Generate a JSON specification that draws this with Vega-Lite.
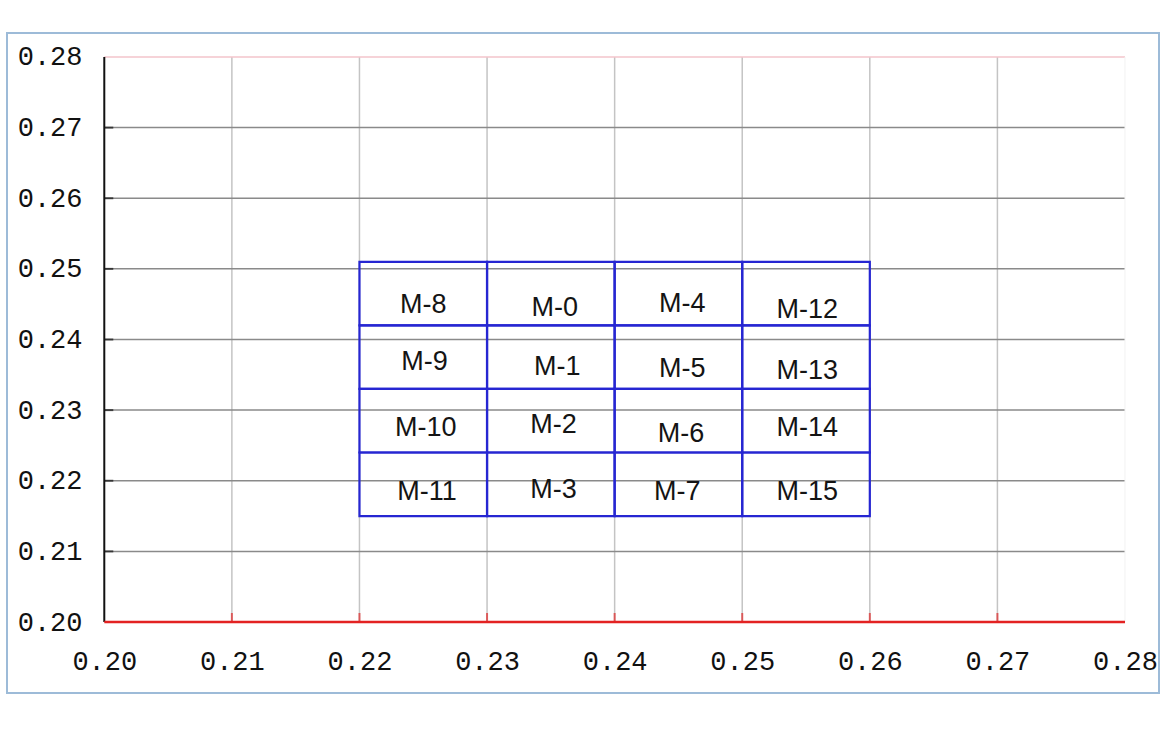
{
  "$schema": "https://vega.github.io/schema/vega-lite/v6.json",
  "autosize": "none",
  "width": 1152,
  "height": 660,
  "padding": {"left": 7, "top": 33, "right": 1, "bottom": 38},
  "background": "white",
  "config": {"view": {"stroke": "#9dbbd8", "strokeWidth": 2}},
  "datasets": {
    "vgrid": [{"v": 0.21}, {"v": 0.22}, {"v": 0.23}, {"v": 0.24}, {"v": 0.25}, {"v": 0.26}, {"v": 0.27}],
    "hgrid": [{"v": 0.21}, {"v": 0.22}, {"v": 0.23}, {"v": 0.24}, {"v": 0.25}, {"v": 0.26}, {"v": 0.27}],
    "cells": [
      {"x1": 0.22, "x2": 0.23, "y1": 0.242, "y2": 0.251},
      {"x1": 0.22, "x2": 0.23, "y1": 0.233, "y2": 0.242},
      {"x1": 0.22, "x2": 0.23, "y1": 0.224, "y2": 0.233},
      {"x1": 0.22, "x2": 0.23, "y1": 0.215, "y2": 0.224},
      {"x1": 0.23, "x2": 0.24, "y1": 0.242, "y2": 0.251},
      {"x1": 0.23, "x2": 0.24, "y1": 0.233, "y2": 0.242},
      {"x1": 0.23, "x2": 0.24, "y1": 0.224, "y2": 0.233},
      {"x1": 0.23, "x2": 0.24, "y1": 0.215, "y2": 0.224},
      {"x1": 0.24, "x2": 0.25, "y1": 0.242, "y2": 0.251},
      {"x1": 0.24, "x2": 0.25, "y1": 0.233, "y2": 0.242},
      {"x1": 0.24, "x2": 0.25, "y1": 0.224, "y2": 0.233},
      {"x1": 0.24, "x2": 0.25, "y1": 0.215, "y2": 0.224},
      {"x1": 0.25, "x2": 0.26, "y1": 0.242, "y2": 0.251},
      {"x1": 0.25, "x2": 0.26, "y1": 0.233, "y2": 0.242},
      {"x1": 0.25, "x2": 0.26, "y1": 0.224, "y2": 0.233},
      {"x1": 0.25, "x2": 0.26, "y1": 0.215, "y2": 0.224}
    ],
    "labels": [
      {"name": "M-8", "x": 0.2250, "y": 0.2449},
      {"name": "M-0", "x": 0.2353, "y": 0.2445},
      {"name": "M-4", "x": 0.2453, "y": 0.2450},
      {"name": "M-12", "x": 0.2551, "y": 0.2442},
      {"name": "M-9", "x": 0.2251, "y": 0.2368},
      {"name": "M-1", "x": 0.2355, "y": 0.2361},
      {"name": "M-5", "x": 0.2453, "y": 0.2358},
      {"name": "M-13", "x": 0.2551, "y": 0.2356},
      {"name": "M-10", "x": 0.2252, "y": 0.2275},
      {"name": "M-2", "x": 0.2352, "y": 0.2279},
      {"name": "M-6", "x": 0.2452, "y": 0.2266},
      {"name": "M-14", "x": 0.2551, "y": 0.2275},
      {"name": "M-11", "x": 0.2253, "y": 0.2184},
      {"name": "M-3", "x": 0.2352, "y": 0.2187},
      {"name": "M-7", "x": 0.2449, "y": 0.2184},
      {"name": "M-15", "x": 0.2551, "y": 0.2184}
    ]
  },
  "layer": [
    {
      "data": {"name": "vgrid"},
      "mark": {"type": "rule", "color": "#c4c4c4", "strokeWidth": 1.5},
      "encoding": {
        "x": {"field": "v", "type": "quantitative", "scale": {"domain": [0.192375, 0.282665], "nice": false, "zero": false},
          "axis": {"values": [0.20, 0.21, 0.22, 0.23, 0.24, 0.25, 0.26, 0.27, 0.28], "format": ".2f", "title": null, "domain": false, "ticks": false, "grid": false, "offset": -71, "labelPadding": 26, "labelFont": "Liberation Mono", "labelFontSize": 27, "labelColor": "#111111", "labelOverlap": false, "labelBound": false, "labelFlush": false}},
        "y": {"datum": 0.20, "type": "quantitative", "scale": {"domain": [0.189947, 0.283398], "nice": false, "zero": false},
          "axis": {"values": [0.20, 0.21, 0.22, 0.23, 0.24, 0.25, 0.26, 0.27, 0.28], "format": ".2f", "title": null, "domain": false, "ticks": false, "grid": false, "offset": -97, "labelPadding": 22, "labelFont": "Liberation Mono", "labelFontSize": 27, "labelColor": "#111111", "labelOverlap": false, "labelBound": false, "labelFlush": false}},
        "y2": {"datum": 0.28}
      }
    },
    {
      "data": {"name": "hgrid"},
      "mark": {"type": "rule", "color": "#8a8a8a", "strokeWidth": 1.5},
      "encoding": {
        "y": {"field": "v", "type": "quantitative"},
        "x": {"datum": 0.20, "type": "quantitative"},
        "x2": {"datum": 0.28}
      }
    },
    {
      "data": {"values": [{"v": 0.28}]},
      "mark": {"type": "rule", "color": "#f3c4cb", "strokeWidth": 1.5},
      "encoding": {
        "y": {"field": "v", "type": "quantitative"},
        "x": {"datum": 0.20, "type": "quantitative"},
        "x2": {"datum": 0.28}
      }
    },
    {
      "data": {"values": [{"v": 0.28}]},
      "mark": {"type": "rule", "color": "#f2f2f2", "strokeWidth": 1},
      "encoding": {
        "x": {"field": "v", "type": "quantitative"},
        "y": {"datum": 0.20, "type": "quantitative"},
        "y2": {"datum": 0.28}
      }
    },
    {
      "data": {"name": "cells"},
      "mark": {"type": "rect", "fill": null, "fillOpacity": 0, "stroke": "#2626d2", "strokeWidth": 2.2},
      "encoding": {
        "x": {"field": "x1", "type": "quantitative"},
        "x2": {"field": "x2"},
        "y": {"field": "y1", "type": "quantitative"},
        "y2": {"field": "y2"}
      }
    },
    {
      "data": {"name": "labels"},
      "mark": {"type": "text", "font": "Liberation Sans", "fontSize": 27, "color": "#141414", "align": "center", "baseline": "middle"},
      "encoding": {
        "x": {"field": "x", "type": "quantitative"},
        "y": {"field": "y", "type": "quantitative"},
        "text": {"field": "name"}
      }
    },
    {
      "data": {"name": "hgrid"},
      "mark": {"type": "tick", "orient": "horizontal", "size": 9, "thickness": 2, "color": "#111111", "xOffset": 4.5},
      "encoding": {
        "y": {"field": "v", "type": "quantitative"},
        "x": {"datum": 0.20, "type": "quantitative"}
      }
    },
    {
      "data": {"name": "vgrid"},
      "mark": {"type": "tick", "orient": "vertical", "size": 9, "thickness": 2, "color": "#e02a2a", "yOffset": -4.5},
      "encoding": {
        "x": {"field": "v", "type": "quantitative"},
        "y": {"datum": 0.20, "type": "quantitative"}
      }
    },
    {
      "data": {"values": [{"v": 0.20}]},
      "mark": {"type": "rule", "color": "#111111", "strokeWidth": 2},
      "encoding": {
        "x": {"field": "v", "type": "quantitative"},
        "y": {"datum": 0.20, "type": "quantitative"},
        "y2": {"datum": 0.28}
      }
    },
    {
      "data": {"values": [{"v": 0.20}]},
      "mark": {"type": "rule", "color": "#e32222", "strokeWidth": 2.5},
      "encoding": {
        "y": {"field": "v", "type": "quantitative"},
        "x": {"datum": 0.20, "type": "quantitative"},
        "x2": {"datum": 0.28}
      }
    }
  ]
}
